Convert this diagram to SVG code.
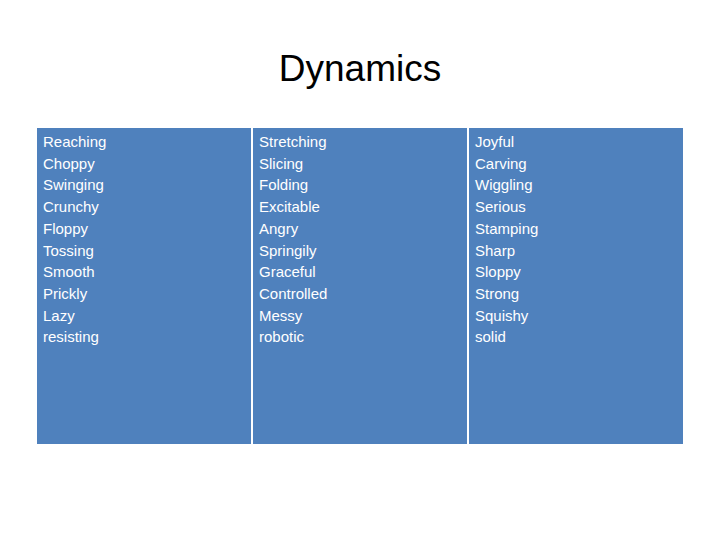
<svg xmlns="http://www.w3.org/2000/svg" width="720" height="540" viewBox="0 0 720 540">
<style>
.c{fill:#4F81BD;stroke:#fff;stroke-width:2}
.t{font-family:"Liberation Sans","Open Sans",sans-serif;font-size:15px;fill:#fff}
</style>
<rect width="720" height="540" fill="#fff"/>
<text x="360" y="81" text-anchor="middle" font-family="Liberation Sans, sans-serif" font-size="37" fill="#000">Dynamics</text>
<g id="col1"><rect class="c" x="36" y="127" width="216" height="318"/>
<text class="t" x="43" y="147"><tspan x="43">Reaching</tspan><tspan x="43" dy="21.7">Choppy</tspan><tspan x="43" dy="21.7">Swinging</tspan><tspan x="43" dy="21.7">Crunchy</tspan><tspan x="43" dy="21.7">Floppy</tspan><tspan x="43" dy="21.7">Tossing</tspan><tspan x="43" dy="21.7">Smooth</tspan><tspan x="43" dy="21.7">Prickly</tspan><tspan x="43" dy="21.7">Lazy</tspan><tspan x="43" dy="21.7">resisting</tspan></text></g>
<g id="col2"><rect class="c" x="252" y="127" width="216" height="318"/>
<text class="t" x="259" y="147"><tspan x="259">Stretching</tspan><tspan x="259" dy="21.7">Slicing</tspan><tspan x="259" dy="21.7">Folding</tspan><tspan x="259" dy="21.7">Excitable</tspan><tspan x="259" dy="21.7">Angry</tspan><tspan x="259" dy="21.7">Springily</tspan><tspan x="259" dy="21.7">Graceful</tspan><tspan x="259" dy="21.7">Controlled</tspan><tspan x="259" dy="21.7">Messy</tspan><tspan x="259" dy="21.7">robotic</tspan></text></g>
<g id="col3"><rect class="c" x="468" y="127" width="216" height="318"/>
<text class="t" x="475" y="147"><tspan x="475">Joyful</tspan><tspan x="475" dy="21.7">Carving</tspan><tspan x="475" dy="21.7">Wiggling</tspan><tspan x="475" dy="21.7">Serious</tspan><tspan x="475" dy="21.7">Stamping</tspan><tspan x="475" dy="21.7">Sharp</tspan><tspan x="475" dy="21.7">Sloppy</tspan><tspan x="475" dy="21.7">Strong</tspan><tspan x="475" dy="21.7">Squishy</tspan><tspan x="475" dy="21.7">solid</tspan></text></g>
<g id="connectors"/>
</svg>
